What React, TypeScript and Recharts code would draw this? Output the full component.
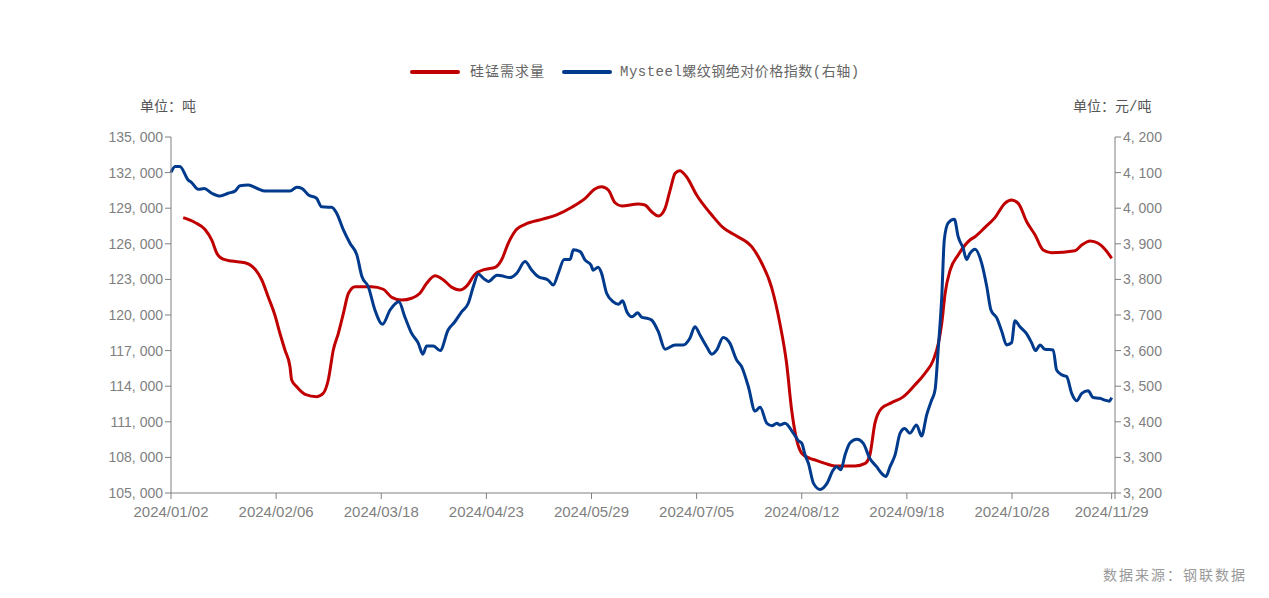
import { LineChart, Line, XAxis, YAxis } from "recharts";

// x positions are trading-day indexes counted from 2024/01/02
const dateTicks = [0, 25, 50, 75, 100, 125, 150, 175, 200, 223.7, 224.5];
const dateLabels = [
  "2024/01/02", "2024/02/06", "2024/03/18", "2024/04/23", "2024/05/29",
  "2024/07/05", "2024/08/12", "2024/09/18", "2024/10/28", "2024/11/29", "",
];
const leftTicks = [105000, 108000, 111000, 114000, 117000, 120000, 123000, 126000, 129000, 132000, 135000];
const rightTicks = [3200, 3300, 3400, 3500, 3600, 3700, 3800, 3900, 4000, 4100, 4200];

// 硅锰需求量 (吨)
const redIdx = [
  2.9, 5.7, 8.1, 9.7, 10.9, 12.4, 14.4, 17.6, 20.0, 21.6, 23.1, 24.7, 25.9, 27.1, 28.3, 28.7, 29.9, 31.9, 34.7, 36.2,
  37.4, 38.6, 39.8, 41.0, 42.2, 43.8, 47.7, 50.5, 52.5, 54.9, 57.2, 59.2, 60.8, 62.8, 64.8, 66.8, 68.7, 70.3, 72.3, 74.7,
  77.1, 78.6, 80.2, 82.2, 84.2, 88.2, 91.7, 95.3, 98.5, 100.8, 102.4, 104.0, 105.6, 107.2, 111.1, 112.7, 114.3, 115.9, 117.5, 118.7,
  119.9, 121.0, 122.6, 125.0, 128.6, 131.3, 134.5, 138.1, 140.5, 142.9, 144.8, 146.4, 147.6, 148.8, 150.0, 151.9, 153.2, 155.5, 157.9, 162.7,
  165.1, 166.2, 167.4, 169.0, 171.4, 174.2, 176.9, 179.3, 181.3, 182.5, 183.3, 184.1, 185.3, 187.2, 190.0, 191.2, 193.6, 196.0, 198.3, 199.9,
  201.5, 203.5, 205.5, 207.4, 209.4, 215.0, 216.6, 218.6, 220.5, 222.1, 223.7,
];
const redVal = [
  128200, 127800, 127200, 126300, 125200, 124700, 124550, 124400, 123850, 122950, 121540, 120000, 118460, 117050, 115640, 114520, 113960, 113320, 113120, 113400,
  114520, 117050, 118460, 120140, 121830, 122390, 122390, 122170, 121490, 121260, 121410, 121830, 122670, 123310, 122950, 122330, 122110, 122440, 123430, 123850,
  124020, 124630, 126040, 127220, 127640, 128060, 128430, 129080, 129830, 130620, 130810, 130530, 129460, 129190, 129350, 129270, 128700, 128340, 128990, 130530,
  131940, 132160, 131650, 130110, 128430, 127360, 126660, 125760, 124360, 122250, 119300, 115930, 111990, 109470, 108350, 107920, 107780, 107500, 107280, 107280,
  107500, 108200, 110870, 112140, 112610, 113120, 114100, 115090, 116210, 117610, 119300, 121830, 123790, 125060, 126320, 126600, 127390, 128230, 129410, 129690,
  129410, 127860, 126740, 125480, 125250, 125420, 125900, 126240, 126040, 125540, 124780,
];

// Mysteel螺纹钢绝对价格指数 (元/吨, 右轴)
const blueIdx = [
  0, 1.0, 2.1, 4.1, 4.9, 6.5, 7.9, 9.7, 11.7, 13.6, 15.2, 16.4, 18.4, 20.4, 22.4, 28.3, 29.9, 31.1, 32.7, 34.6,
  35.8, 37.4, 38.2, 39.4, 41.0, 42.6, 44.2, 45.4, 46.9, 48.5, 50.3, 52.1, 54.2, 55.6, 57.2, 58.8, 59.9, 60.8, 62.4, 64.0,
  65.9, 67.5, 69.1, 70.7, 71.9, 73.1, 74.3, 75.5, 77.5, 78.6, 80.6, 82.2, 84.2, 85.8, 87.3, 89.7, 90.9, 92.1, 93.5, 94.9,
  95.7, 97.3, 98.5, 99.9, 100.4, 101.6, 102.4, 103.6, 105.2, 106.4, 107.4, 108.4, 109.6, 111.0, 111.9, 113.5, 114.3, 115.9, 117.5, 119.9,
  121.8, 123.4, 124.6, 125.8, 127.4, 128.6, 129.8, 131.3, 132.9, 134.5, 135.7, 137.3, 138.9, 140.1, 141.7, 142.9, 144.1, 144.8, 146.0, 148.0,
  149.2, 150.0, 150.8, 151.6, 152.8, 154.4, 156.0, 157.5, 158.3, 159.3, 160.3, 161.5, 163.1, 164.6, 166.2, 167.8, 169.0, 170.0, 171.0, 172.2,
  173.4, 174.5, 175.7, 177.3, 178.5, 179.7, 180.9, 181.7, 182.5, 183.3, 183.9, 184.8, 186.3, 187.2, 188.4, 189.2, 190.0, 191.2, 192.8, 194.0,
  195.0, 196.4, 197.6, 198.7, 199.9, 200.7, 201.9, 203.5, 204.7, 205.6, 206.7, 207.8, 209.8, 210.6, 211.8, 213.0, 214.2, 215.4, 216.6, 218.1,
  219.3, 220.9, 222.1, 223.1, 223.7,
];
const blueVal = [
  4101, 4117, 4117, 4079, 4072, 4053, 4055, 4042, 4034, 4042, 4048, 4063, 4065, 4056, 4048, 4048, 4059, 4056, 4037, 4028,
  4004, 4003, 4003, 3986, 3939, 3901, 3869, 3808, 3780, 3714, 3674, 3714, 3737, 3695, 3649, 3621, 3590, 3613, 3613, 3600,
  3658, 3681, 3709, 3733, 3780, 3815, 3803, 3794, 3812, 3810, 3805, 3817, 3850, 3826, 3808, 3798, 3784, 3817, 3856, 3856,
  3883, 3878, 3854, 3840, 3826, 3834, 3817, 3761, 3737, 3730, 3740, 3709, 3695, 3706, 3694, 3690, 3686, 3653, 3604, 3616,
  3616, 3635, 3667, 3644, 3611, 3590, 3602, 3637, 3621, 3574, 3555, 3499, 3430, 3441, 3396, 3389, 3396, 3391, 3396, 3368,
  3347, 3340, 3307, 3283, 3227, 3210, 3227, 3265, 3274, 3265, 3307, 3341, 3351, 3340, 3297, 3274, 3255, 3246, 3274, 3307,
  3368, 3381, 3368, 3391, 3360, 3419, 3461, 3489, 3611, 3751, 3911, 3958, 3969, 3920, 3887, 3856, 3873, 3885, 3845, 3780,
  3714, 3691, 3653, 3616, 3622, 3684, 3667, 3647, 3621, 3600, 3616, 3604, 3602, 3546, 3532, 3527, 3480, 3459, 3480, 3487,
  3468, 3466, 3461, 3458, 3468,
];

const redData = redIdx.map((i, k) => ({ i, v: redVal[k] }));
const blueData = blueIdx.map((i, k) => ({ i, v: blueVal[k] }));

const RED = "#C00000";
const BLUE = "#003A8C";
const AXIS = "#808080";
const tickStyle = { fill: "#7f7f7f", fontSize: 14, fontFamily: "Liberation Sans, Arial, sans-serif" };
const dateStyle = { ...tickStyle, fontSize: 15 };
const cjk = "'Liberation Mono', 'Noto Sans CJK SC', monospace";

const fmt = (v: number) => v.toLocaleString("en-US").replace(",", ", ");

export default function App() {
  return (
    <div style={{ position: "relative", width: 1261, height: 590, margin: "-8px 0 0 -8px" }}>
      <LineChart width={1261} height={590} margin={{ top: 137, right: 76, bottom: 67, left: 91 }}>
        <XAxis
          dataKey="i"
          type="number"
          domain={[0, 224.5]}
          ticks={dateTicks}
          tickFormatter={(v, idx) => dateLabels[idx] ?? ""}
          interval={0}
          height={30}
          stroke={AXIS}
          tick={dateStyle}
          tickSize={6}
          tickMargin={7}
          allowDuplicatedCategory={false}
        />
        <YAxis
          yAxisId="left"
          domain={[105000, 135000]}
          ticks={leftTicks}
          tickFormatter={fmt}
          width={80}
          stroke={AXIS}
          tick={tickStyle}
          tickSize={6}
          interval={0}
        />
        <YAxis
          yAxisId="right"
          orientation="right"
          domain={[3200, 4200]}
          ticks={rightTicks}
          tickFormatter={fmt}
          width={70}
          stroke={AXIS}
          tick={tickStyle}
          tickSize={6}
          interval={0}
        />
        <Line
          yAxisId="left"
          data={redData}
          dataKey="v"
          type="monotone"
          stroke={RED}
          strokeWidth={3}
          dot={false}
          isAnimationActive={false}
        />
        <Line
          yAxisId="right"
          data={blueData}
          dataKey="v"
          type="monotone"
          stroke={BLUE}
          strokeWidth={3}
          dot={false}
          isAnimationActive={false}
        />
      </LineChart>

      <div style={{ position: "absolute", left: 410, top: 70, width: 50, height: 4, borderRadius: 2, background: RED }} />
      <div style={{ position: "absolute", left: 470, top: 62, fontSize: 14, lineHeight: "20px", color: "#666", fontFamily: cjk, letterSpacing: 1 }}>
        硅锰需求量
      </div>
      <div style={{ position: "absolute", left: 562, top: 70, width: 50, height: 4, borderRadius: 2, background: BLUE }} />
      <div style={{ position: "absolute", left: 620, top: 62, fontSize: 14, lineHeight: "20px", color: "#666", fontFamily: cjk, letterSpacing: 0.5 }}>
        Mysteel螺纹钢绝对价格指数(右轴)
      </div>

      <div style={{ position: "absolute", left: 140, top: 97, fontSize: 14, lineHeight: "20px", color: "#555", fontFamily: cjk }}>
        单位：吨
      </div>
      <div style={{ position: "absolute", left: 1073, top: 97, fontSize: 14, lineHeight: "20px", color: "#555", fontFamily: cjk }}>
        单位：元/吨
      </div>
      <div style={{ position: "absolute", left: 1103, top: 566, fontSize: 14, lineHeight: "20px", color: "#999", fontFamily: cjk, letterSpacing: 2 }}>
        数据来源：钢联数据
      </div>
    </div>
  );
}
